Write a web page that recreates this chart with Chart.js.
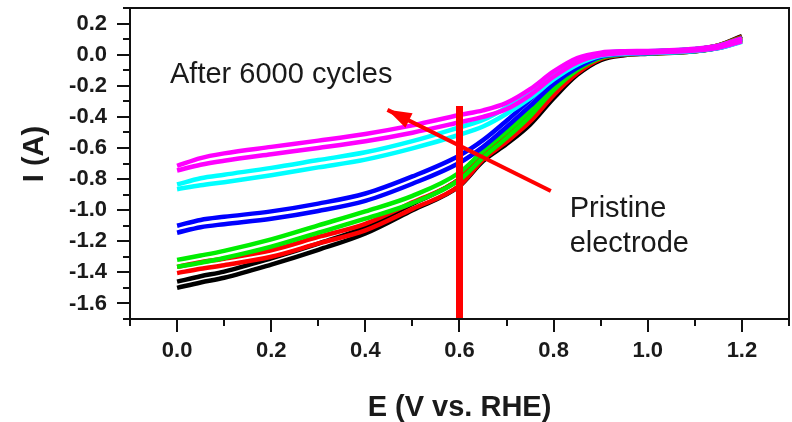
<!DOCTYPE html>
<html><head><meta charset="utf-8">
<script src="https://cdn.jsdelivr.net/npm/chart.js@4.4.1/dist/chart.umd.min.js"></script>
<style>html,body{margin:0;padding:0;background:#fff;}#wrap{width:792px;height:422px;}</style>
</head><body><div id="wrap"><canvas id="c" width="792" height="422"></canvas></div>
<script>
// Potential (V vs. RHE) sample points
const potential = [0, 0.05, 0.1, 0.2, 0.3, 0.4, 0.5, 0.6, 0.65, 0.7, 0.75, 0.8, 0.85, 0.9, 0.95, 1.0, 1.1, 1.15, 1.2];

// Current (A): each cycle is a loop, upper and lower branches
const blackUpper   = [-1.46,-1.425,-1.395,-1.31,-1.215,-1.11,-0.96,-0.80,-0.645,-0.535,-0.41,-0.245,-0.10,-0.015,0.012,0.02,0.035,0.06,0.12];
const blackLower   = [-1.50,-1.465,-1.435,-1.35,-1.255,-1.15,-1.0,-0.845,-0.685,-0.575,-0.45,-0.28,-0.13,-0.035,-0.004,0.006,0.022,0.046,0.10];
const redUpper     = [-1.365,-1.335,-1.312,-1.258,-1.172,-1.088,-0.95,-0.80,-0.635,-0.52,-0.39,-0.225,-0.09,-0.008,0.014,0.02,0.035,0.06,0.115];
const redLower     = [-1.405,-1.377,-1.354,-1.30,-1.214,-1.13,-0.992,-0.842,-0.675,-0.56,-0.43,-0.26,-0.12,-0.028,0.0,0.007,0.022,0.045,0.095];
const greenUpper   = [-1.32,-1.292,-1.262,-1.188,-1.098,-1.008,-0.908,-0.758,-0.62,-0.495,-0.355,-0.193,-0.07,0.0,0.016,0.02,0.035,0.058,0.11];
const greenLower   = [-1.365,-1.338,-1.308,-1.235,-1.145,-1.055,-0.955,-0.805,-0.662,-0.535,-0.395,-0.228,-0.10,-0.02,0.002,0.008,0.022,0.044,0.09];
const blueUpper    = [-1.10,-1.063,-1.043,-1.008,-0.958,-0.893,-0.783,-0.648,-0.55,-0.425,-0.29,-0.152,-0.055,0.004,0.018,0.021,0.035,0.056,0.105];
const blueLower    = [-1.145,-1.11,-1.09,-1.055,-1.005,-0.94,-0.83,-0.695,-0.593,-0.465,-0.33,-0.188,-0.085,-0.014,0.004,0.009,0.023,0.042,0.085];
const cyanUpper    = [-0.835,-0.795,-0.772,-0.728,-0.678,-0.628,-0.556,-0.467,-0.42,-0.34,-0.24,-0.125,-0.035,0.008,0.02,0.022,0.036,0.056,0.10];
const cyanLower    = [-0.865,-0.84,-0.82,-0.775,-0.725,-0.675,-0.603,-0.515,-0.462,-0.38,-0.28,-0.16,-0.065,-0.008,0.006,0.01,0.024,0.042,0.082];
const magentaUpper = [-0.715,-0.665,-0.635,-0.593,-0.553,-0.51,-0.455,-0.388,-0.358,-0.31,-0.222,-0.108,-0.022,0.013,0.022,0.024,0.038,0.058,0.105];
const magentaLower = [-0.745,-0.708,-0.682,-0.64,-0.60,-0.557,-0.502,-0.435,-0.40,-0.35,-0.26,-0.142,-0.05,-0.003,0.01,0.012,0.026,0.044,0.085];

// Annotation anchors (data units)
const markerE = [0.6, 0.6];
const markerI = [-0.33, -1.7];
const arrowE = [0.794, 0.447];
const arrowI = [-0.877, -0.355];
const labelTexts = ['After 6000 cycles', 'Pristine', 'electrode'];
const labelE = [-0.015, 0.834, 0.834];
const labelI = [-0.18, -1.045, -1.27];

// Axis ranges and tick labels
const xRange = [-0.1, 1.3];
const yRange = [-1.7, 0.3];
const xTickLabels = ['0.0','0.2','0.4','0.6','0.8','1.0','1.2'];
const yTickLabels = ['-1.6','-1.4','-1.2','-1.0','-0.8','-0.6','-0.4','-0.2','0.0','0.2'];

const FONT = '"Liberation Sans", Arial, Helvetica, sans-serif';

function pts(xs, ys){ return xs.map((x,i)=>({x:x, y:ys[i]})); }

const series = [
  {c:'#000000', u:blackUpper, l:blackLower},
  {c:'#ff0000', u:redUpper, l:redLower},
  {c:'#00ee00', u:greenUpper, l:greenLower},
  {c:'#0000ff', u:blueUpper, l:blueLower},
  {c:'#00ffff', u:cyanUpper, l:cyanLower},
  {c:'#ff00ff', u:magentaUpper, l:magentaLower}
];

const datasets = [];
series.forEach((s, i) => {
  [s.u, s.l].forEach(arr => {
    datasets.push({
      data: pts(potential, arr), showLine: true, borderColor: s.c, borderWidth: 4.5,
      pointRadius: 0, cubicInterpolationMode: 'monotone', fill: false, order: 10 - i
    });
  });
});
datasets.push({data: pts(markerE, markerI), showLine: true, borderColor: '#ff0000', borderWidth: 7, pointRadius: 0, order: 1, borderCapStyle: 'butt'});
datasets.push({data: pts(arrowE, arrowI), showLine: true, borderColor: '#ff0000', borderWidth: 4, pointRadius: 0, order: 0, borderCapStyle: 'butt'});

const annot = {
  id: 'annot',
  afterDatasetsDraw(chart) {
    const ctx = chart.ctx, xs = chart.scales.x, ys = chart.scales.y;
    const x0 = xs.getPixelForValue(arrowE[0]), y0 = ys.getPixelForValue(arrowI[0]);
    const x1 = xs.getPixelForValue(arrowE[1]), y1 = ys.getPixelForValue(arrowI[1]);
    const ang = Math.atan2(y1 - y0, x1 - x0);
    const L = 24, W = 8;
    ctx.save();
    ctx.fillStyle = '#ff0000';
    ctx.beginPath();
    ctx.moveTo(x1, y1);
    ctx.lineTo(x1 - L*Math.cos(ang) + W*Math.sin(ang), y1 - L*Math.sin(ang) - W*Math.cos(ang));
    ctx.lineTo(x1 - L*Math.cos(ang) - W*Math.sin(ang), y1 - L*Math.sin(ang) + W*Math.cos(ang));
    ctx.closePath();
    ctx.fill();
    ctx.fillStyle = '#1a1a1a';
    ctx.font = '29px ' + FONT;
    ctx.textAlign = 'left';
    ctx.textBaseline = 'alphabetic';
    labelTexts.forEach((t, i) => ctx.fillText(t, xs.getPixelForValue(labelE[i]), ys.getPixelForValue(labelI[i])));
    ctx.restore();
  },
  afterDraw(chart) {
    const ctx = chart.ctx, xs = chart.scales.x, ys = chart.scales.y, a = chart.chartArea;
    ctx.save();
    ctx.strokeStyle = '#111';
    ctx.lineWidth = 2;
    ctx.strokeRect(a.left, a.top, a.right - a.left, a.bottom - a.top);
    ctx.beginPath();
    for (let k = -1; k <= 13; k++) {
      const px = Math.round(xs.getPixelForValue(k/10));
      const major = (k % 2 === 0 && k >= 0 && k <= 12);
      ctx.moveTo(px, a.bottom); ctx.lineTo(px, a.bottom + (major ? 13 : 7));
    }
    for (let k = -17; k <= 3; k++) {
      const py = Math.round(ys.getPixelForValue(k/10));
      const major = (Math.abs(k) % 2 === 0 && k >= -16 && k <= 2);
      ctx.moveTo(a.left, py); ctx.lineTo(a.left - (major ? 13 : 7), py);
    }
    ctx.stroke();
    ctx.translate(35, 154);
    ctx.rotate(-Math.PI/2);
    ctx.fillStyle = '#1a1a1a';
    ctx.font = 'bold 29px ' + FONT;
    ctx.textAlign = 'center';
    ctx.textBaseline = 'middle';
    ctx.fillText('I (A)', 0, 0);
    ctx.restore();
  }
};

function tickCb(labels){
  return function(v){
    const s = (Math.round(v*10)/10).toFixed(1);
    const t = (s === '-0.0') ? '0.0' : s;
    return labels.includes(t) ? t : '';
  };
}

new Chart(document.getElementById('c'), {
  type: 'scatter',
  data: {datasets},
  options: {
    responsive: false, animation: false, devicePixelRatio: 1,
    layout: {padding: {top: 8, right: 3, left: 0, bottom: 0}},
    plugins: {legend: {display: false}, tooltip: {enabled: false}},
    elements: {point: {radius: 0}},
    scales: {
      x: {
        type: 'linear', min: xRange[0], max: xRange[1],
        afterFit: s => { s.height = 103; s.paddingLeft = 0; s.paddingRight = 0; },
        ticks: {stepSize: 0.1, autoSkip: false, maxRotation: 0, padding: 7, color: '#1a1a1a',
                font: {family: FONT, size: 22, weight: 'bold'}, callback: tickCb(xTickLabels)},
        grid: {display: true, drawOnChartArea: false, drawTicks: true, tickLength: 12, color: 'rgba(0,0,0,0)', tickColor: 'rgba(0,0,0,0)'},
        border: {display: true, color: '#111', width: 2},
        title: {display: true, text: 'E (V vs. RHE)', color: '#1a1a1a', padding: 0,
                font: {family: FONT, size: 29, weight: 'bold', lineHeight: 1}}
      },
      y: {
        type: 'linear', min: yRange[0], max: yRange[1],
        afterFit: s => { s.width = 130; s.paddingTop = 0; s.paddingBottom = 0; },
        ticks: {stepSize: 0.1, autoSkip: false, padding: 11, color: '#1a1a1a',
                font: {family: FONT, size: 22, weight: 'bold'}, callback: tickCb(yTickLabels)},
        grid: {display: true, drawOnChartArea: false, drawTicks: true, tickLength: 12, color: 'rgba(0,0,0,0)', tickColor: 'rgba(0,0,0,0)'},
        border: {display: true, color: '#111', width: 2}
      }
    }
  },
  plugins: [annot]
});
</script>
</body></html>
